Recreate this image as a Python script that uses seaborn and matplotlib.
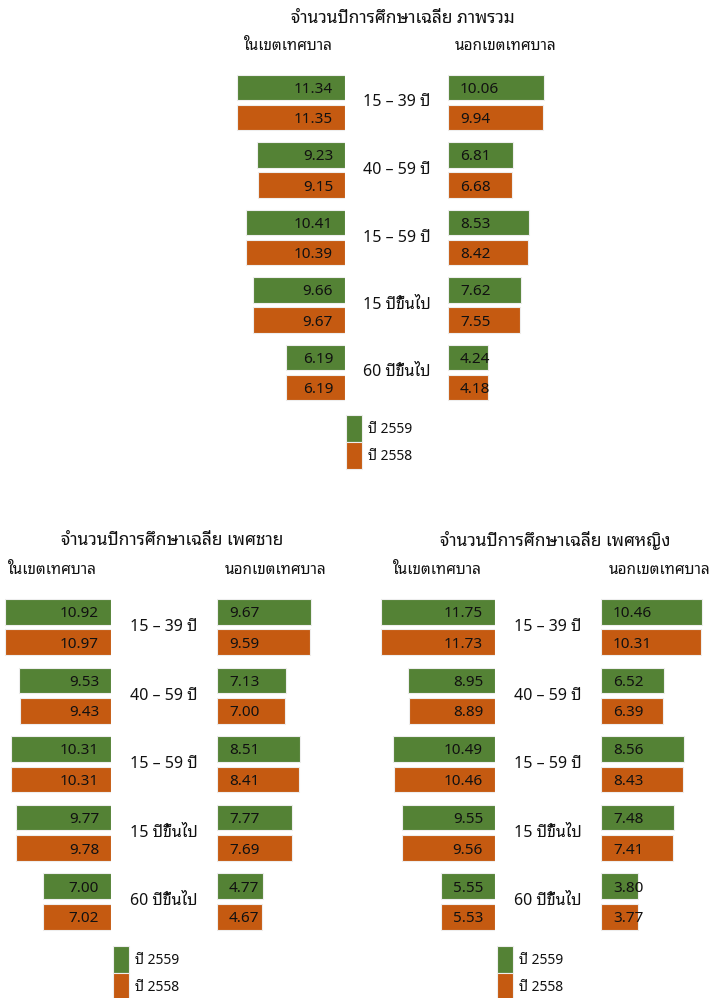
import matplotlib
matplotlib.use("Agg")
import pandas as pd
import seaborn as sns
import matplotlib.pyplot as plt
from matplotlib import font_manager

# ข้อมูล: จำนวนปีการศึกษาเฉลี่ย
categories = ["15 – 39 ปี", "40 – 59 ปี", "15 – 59 ปี", "15 ปีขึ้นไป", "60 ปีขึ้นไป"]
years = ["ปี 2559", "ปี 2558"]

total_in_2559 = [11.34, 9.23, 10.41, 9.66, 6.19]
total_in_2558 = [11.35, 9.15, 10.39, 9.67, 6.19]
total_out_2559 = [10.06, 6.81, 8.53, 7.62, 4.24]
total_out_2558 = [9.94, 6.68, 8.42, 7.55, 4.18]

male_in_2559 = [10.92, 9.53, 10.31, 9.77, 7.00]
male_in_2558 = [10.97, 9.43, 10.31, 9.78, 7.02]
male_out_2559 = [9.67, 7.13, 8.51, 7.77, 4.77]
male_out_2558 = [9.59, 7.00, 8.41, 7.69, 4.67]

female_in_2559 = [11.75, 8.95, 10.49, 9.55, 5.55]
female_in_2558 = [11.73, 8.89, 10.46, 9.56, 5.53]
female_out_2559 = [10.46, 6.52, 8.56, 7.48, 3.80]
female_out_2558 = [10.31, 6.39, 8.43, 7.41, 3.77]

GREEN = "#548235"
ORANGE = "#C55A11"
TXT = "#111111"
W, H = 709, 998

installed = {f.name for f in font_manager.fontManager.ttflist}
thai = [n for n in ["Noto Sans Thai Looped", "Loma", "IBM Plex Sans Thai Looped", "Noto Sans Thai"]
        if n in installed]

sns.set_style("white")
plt.rcParams["font.family"] = thai[:1] + ["Noto Sans", "DejaVu Sans"]
plt.rcParams["text.color"] = TXT

fig = plt.figure(figsize=(W / 100, H / 100), dpi=100)


def px_axes(left, top, right, bottom):
    return fig.add_axes([left / W, 1 - bottom / H, (right - left) / W, (bottom - top) / H])


def make_df(v_new, v_old):
    return pd.DataFrame({
        "กลุ่มอายุ": categories * 2,
        "ปี": [years[0]] * len(categories) + [years[1]] * len(categories),
        "ค่า": v_new + v_old,
    })


def draw_side(ax, df, xmax, side, want_legend=False):
    sns.barplot(data=df, x="ค่า", y="กลุ่มอายุ", hue="ปี", orient="h",
                palette=[GREEN, ORANGE], saturation=1, width=0.889, gap=0.16,
                edgecolor="#eeeeee", linewidth=0.8, errorbar=None,
                legend=want_legend, ax=ax)
    if side == "left":
        ax.set_xlim(xmax, 0)
    else:
        ax.set_xlim(0, xmax)
    ax.set_ylim(len(categories) - 0.5, -0.5)
    for cont in ax.containers:
        for bar, val in zip(cont, cont.datavalues):
            yc = bar.get_y() + bar.get_height() / 2
            if side == "left":
                ax.annotate(f"{val:.2f}", xy=(0, yc), xytext=(-12, 0),
                            textcoords="offset pixels", ha="right",
                            va="center_baseline", fontsize=11)
            else:
                ax.annotate(f"{val:.2f}", xy=(0, yc), xytext=(12, 0),
                            textcoords="offset pixels", ha="left",
                            va="center_baseline", fontsize=11)
    ax.set_axis_off()


panels = [
    dict(title="จำนวนปีการศึกษาเฉลี่ย ภาพรวม",
         vin=(total_in_2559, total_in_2558), vout=(total_out_2559, total_out_2558),
         edge_l=345, edge_r=448, top=68.75, bottom=406.25, scale=9.55, xmax=12.5,
         title_xy=(403, 18), head_in=(288, 47), head_out=(506, 47), leg_xy=(346, 415)),
    dict(title="จำนวนปีการศึกษาเฉลี่ย เพศชาย",
         vin=(male_in_2559, male_in_2558), vout=(male_out_2559, male_out_2558),
         edge_l=111, edge_r=217, top=592.7, bottom=935.8, scale=9.7, xmax=11.5,
         title_xy=(172, 540), head_in=(52, 571), head_out=(276, 571), leg_xy=(113, 946)),
    dict(title="จำนวนปีการศึกษาเฉลี่ย เพศหญิง",
         vin=(female_in_2559, female_in_2558), vout=(female_out_2559, female_out_2558),
         edge_l=495, edge_r=601, top=592.7, bottom=935.8, scale=9.7, xmax=12.5,
         title_xy=(555, 540), head_in=(437, 571), head_out=(660, 571), leg_xy=(497, 946)),
]

for p in panels:
    span = p["xmax"] * p["scale"]
    ax_l = px_axes(p["edge_l"] - span, p["top"], p["edge_l"], p["bottom"])
    ax_r = px_axes(p["edge_r"], p["top"], p["edge_r"] + span, p["bottom"])
    draw_side(ax_l, make_df(*p["vin"]), p["xmax"], "left", want_legend=True)
    draw_side(ax_r, make_df(*p["vout"]), p["xmax"], "right")

    # ป้ายกลุ่มอายุตรงกลาง
    mid = (p["edge_l"] + p["edge_r"]) / 2
    for i, cat in enumerate(categories):
        yc = ax_l.transData.transform((0, i))[1]
        fig.text(mid / W, yc / H, cat, ha="center", va="center", fontsize=11.5)

    fig.text(p["title_xy"][0] / W, 1 - p["title_xy"][1] / H, p["title"],
             ha="center", va="center", fontsize=12.5)
    fig.text(p["head_in"][0] / W, 1 - p["head_in"][1] / H, "ในเขตเทศบาล",
             ha="center", va="center", fontsize=11)
    fig.text(p["head_out"][0] / W, 1 - p["head_out"][1] / H, "นอกเขตเทศบาล",
             ha="center", va="center", fontsize=11)

    leg = ax_l.get_legend()
    handles = leg.legend_handles
    labels = [t.get_text() for t in leg.get_texts()]
    leg.remove()
    fs = 10
    fs_px = fs * 100 / 72
    fig.legend(handles, labels, loc="upper left",
               bbox_to_anchor=(p["leg_xy"][0] / W, 1 - p["leg_xy"][1] / H),
               frameon=False, borderpad=0, borderaxespad=0, fontsize=fs,
               handlelength=16 / fs_px, handleheight=(27 / fs_px - 0.245) / 0.65,
               labelspacing=0, handletextpad=6 / fs_px)

fig.savefig("out.png", dpi=100)
